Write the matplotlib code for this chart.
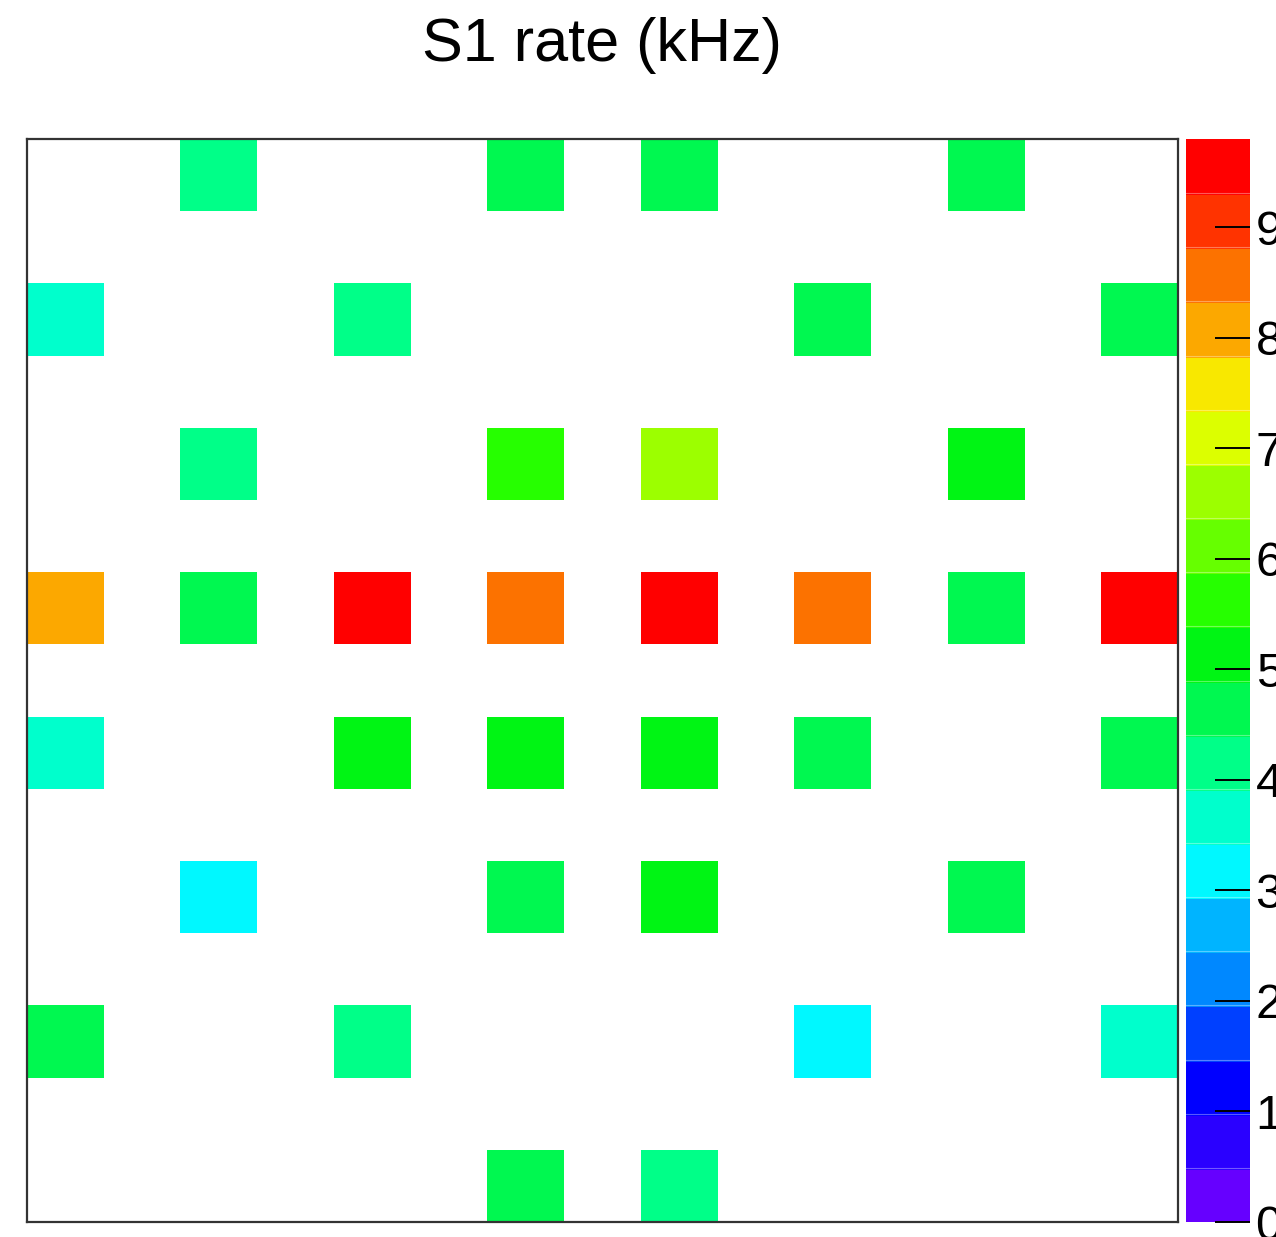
"""S1 rate map per channel, drawn as a binned 2D histogram with a stepped palette."""

import matplotlib

matplotlib.use("Agg")

import matplotlib.pyplot as plt
import numpy as np
from matplotlib.colors import BoundaryNorm, ListedColormap

plt.rcParams["font.family"] = ["Liberation Sans", "DejaVu Sans"]

# channel rates in kHz, rows listed top to bottom, channels sit on every second bin
rate_khz = [
    [np.nan, 4.2, np.nan, 4.7, 4.7, np.nan, 4.7, np.nan],
    [3.7, np.nan, 4.2, np.nan, np.nan, 4.7, np.nan, 4.7],
    [np.nan, 4.2, np.nan, 5.6, 6.6, np.nan, 5.1, np.nan],
    [8.1, 4.7, 9.8, 8.6, 9.6, 8.6, 4.7, 9.5],
    [3.7, np.nan, 5.1, 5.1, 5.1, 4.7, np.nan, 4.7],
    [np.nan, 3.2, np.nan, 4.7, 5.1, np.nan, 4.7, np.nan],
    [4.7, np.nan, 4.2, np.nan, np.nan, 3.2, np.nan, 3.7],
    [np.nan, np.nan, np.nan, 4.7, 4.2, np.nan, np.nan, np.nan],
]
n_bins = 15
z_max = 9.8
n_contours = 20
z_ticks = list(range(10))

palette = [
    "#6600ff", "#2a00ff", "#0000ff", "#0040ff", "#0088ff",
    "#00b4ff", "#00f8ff", "#00ffcc", "#00ff88", "#00f850",
    "#00f514", "#26ff00", "#66ff00", "#9cff00", "#dcff00",
    "#f8e800", "#fca800", "#fc7200", "#ff3300", "#ff0000",
]

# fill the full 15x15 histogram, row 0 at the bottom
grid = np.full((n_bins, n_bins), np.nan)
vals = np.array(rate_khz)[::-1]
grid[::2, ::2] = vals
grid = np.ma.masked_invalid(grid)

levels = np.linspace(0, z_max, n_contours + 1)
cmap = ListedColormap(palette)
norm = BoundaryNorm(levels, cmap.N, clip=True)

W, H = 1276, 1237
fig = plt.figure(figsize=(W / 100, H / 100), dpi=100)
ax = fig.add_axes([27 / W, 1 - 1222 / H, 1151 / W, 1083 / H])
cax = fig.add_axes([1186 / W, 1 - 1222 / H, 64 / W, 1083 / H])

edges = np.arange(n_bins + 1)
mesh = ax.pcolormesh(edges, edges, grid, cmap=cmap, norm=norm)
ax.set_xlim(0, n_bins)
ax.set_ylim(0, n_bins)
ax.set_xticks([])
ax.set_yticks([])
for sp in ax.spines.values():
    sp.set_linewidth(1.6)
    sp.set_color("#333333")

cb = fig.colorbar(mesh, cax=cax, ticks=z_ticks, spacing="proportional")
cb.minorticks_off()
cb.outline.set_visible(False)
cb.solids.set_edgecolor("face")
# faint seams between the palette steps
for lv in levels[1:-1]:
    cax.axhline(lv, color="white", lw=0.8, alpha=0.35)
cax.tick_params(axis="y", which="major", direction="in", length=25, width=1.4,
                color="black", labelsize=35, pad=4, right=True, left=False)
cax.tick_params(axis="y", which="minor", length=0)
cax.set_ylim(0, z_max)

fig.text(602 / W, 1 - 45 / H, "S1 rate (kHz)", ha="center", va="center", fontsize=44)

fig.savefig("out.png", dpi=100)
plt.close(fig)
